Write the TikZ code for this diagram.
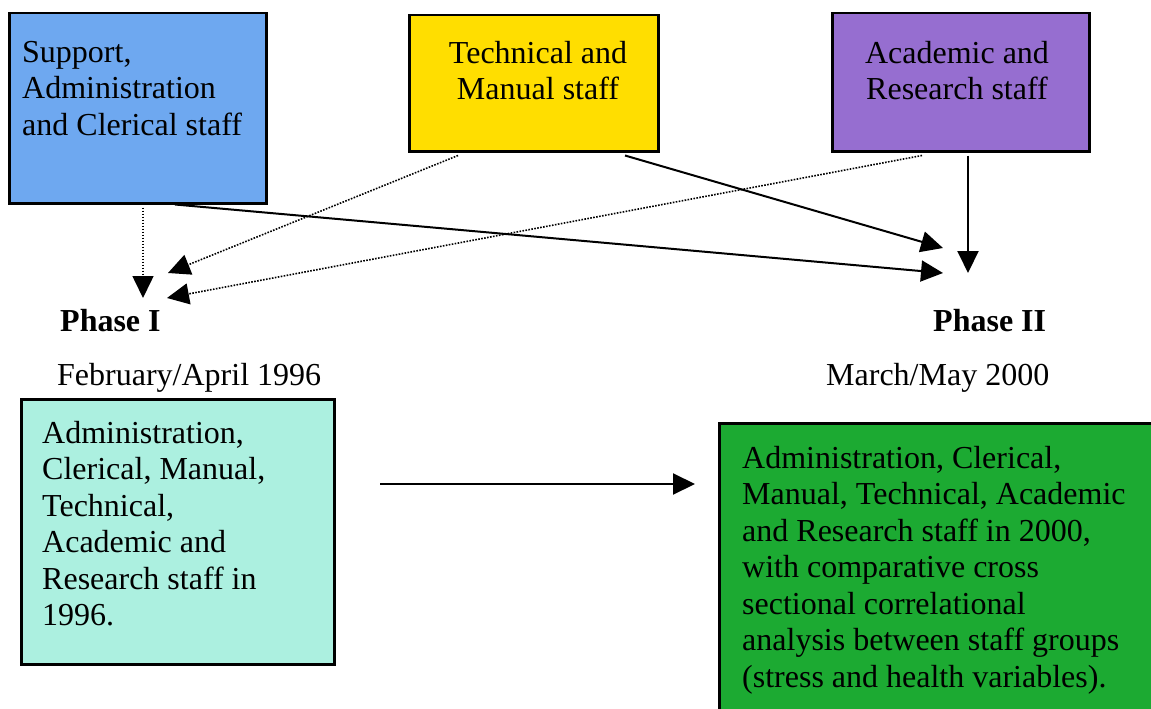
\documentclass[tikz,border=0pt]{standalone}
\usepackage{fontspec}
\setmainfont{Liberation Serif}
\usetikzlibrary{arrows.meta, positioning}

\definecolor{supportblue}{RGB}{110,168,240}
\definecolor{techyellow}{RGB}{255,222,0}
\definecolor{acadpurple}{RGB}{150,110,208}
\definecolor{waveonecyan}{RGB}{172,240,224}
\definecolor{wavetwogreen}{RGB}{28,170,50}

\newcommand{\diagfont}{\fontsize{32}{36.5}\selectfont}

\begin{document}
\begin{tikzpicture}[x=1pt, y=-1pt, font=\diagfont,
	staffbox/.style={draw=black, line width=2.5pt, anchor=north west, inner sep=0pt},
	boxtext/.style={inner sep=0pt, align=left, anchor=north west},
	phaselabel/.style={font=\diagfont\bfseries, inner sep=0pt, anchor=base west},
	datelabel/.style={inner sep=0pt, anchor=base west},
	solidarrow/.style={line width=2pt, -{Triangle[length=22pt, width=21pt]}},
	dotarrow/.style={line width=1.6pt, dash pattern=on 1.6pt off 1.4pt, -{Triangle[length=22pt, width=21pt]}}]
	\useasboundingbox (0,0) rectangle (1151,709);
	\clip (0,0) rectangle (1151,709);

	% staff groups
	\node[staffbox, fill=supportblue, minimum width=257pt, minimum height=190pt] (support) at (8,12) {};
	\node[boxtext] (supporttxt) at (22,41) {Support,\\Administration\\and Clerical staff};
	\node[staffbox, fill=techyellow, minimum width=249pt, minimum height=136pt] (technical) at (408,14) {};
	\node[boxtext, align=center, anchor=north] (technicaltxt) at (538,41) {Technical and\\Manual staff};
	\node[staffbox, fill=acadpurple, minimum width=257pt, minimum height=138pt] (academic) at (831,12) {};
	\node[boxtext, align=center, anchor=north] (academictxt) at (957,41) {Academic and\\Research staff};

	% phases
	\node[phaselabel] (phaseone) at (60,331) {Phase I};
	\node[phaselabel] (phasetwo) at (933,331) {Phase II};
	\node[datelabel] (dateone) at (57,385) {February/April 1996};
	\node[datelabel] (datetwo) at (826,385) {March/May 2000};

	\node[staffbox, fill=waveonecyan, minimum width=313pt, minimum height=265pt] (waveone) at (20,398) {};
	\node[boxtext] (waveonetxt) at (42,421) {Administration,\\Clerical, Manual,\\Technical,\\Academic and\\Research staff in\\1996.};
	\node[staffbox, fill=wavetwogreen, minimum width=460pt, minimum height=310pt] (wavetwo) at (718,422) {};
	\node[boxtext] (wavetwotxt) at (742,446) {Administration, Clerical,\\Manual, Technical, Academic\\and Research staff in 2000,\\with comparative cross\\sectional correlational\\analysis between staff groups\\(stress and health variables).};

	% arrow ends
	\coordinate (oneA) at (143,298);
	\coordinate (oneB) at (168,273);
	\coordinate (oneC) at (167,298);
	\coordinate (twoA) at (943,273);
	\coordinate (twoB) at (943,248);
	\coordinate (twoC) at (968,273);
	\coordinate (linkstart) at (380,484);
	\coordinate (linkend) at (695,484);

	\draw[dotarrow] ([xshift=135pt, yshift=-3pt]support.south west) -- (oneA);
	\draw[dotarrow] ([xshift=50pt, yshift=-3pt]technical.south west) -- (oneB);
	\draw[dotarrow] ([xshift=91pt, yshift=-3pt]academic.south west) -- (oneC);
	\draw[solidarrow] ([xshift=167pt]support.south west) -- (twoA);
	\draw[solidarrow] ([xshift=217pt, yshift=-3pt]technical.south west) -- (twoB);
	\draw[solidarrow] ([xshift=137pt, yshift=-3pt]academic.south west) -- (twoC);
	\draw[solidarrow] (linkstart) -- (linkend);
\end{tikzpicture}
\end{document}
